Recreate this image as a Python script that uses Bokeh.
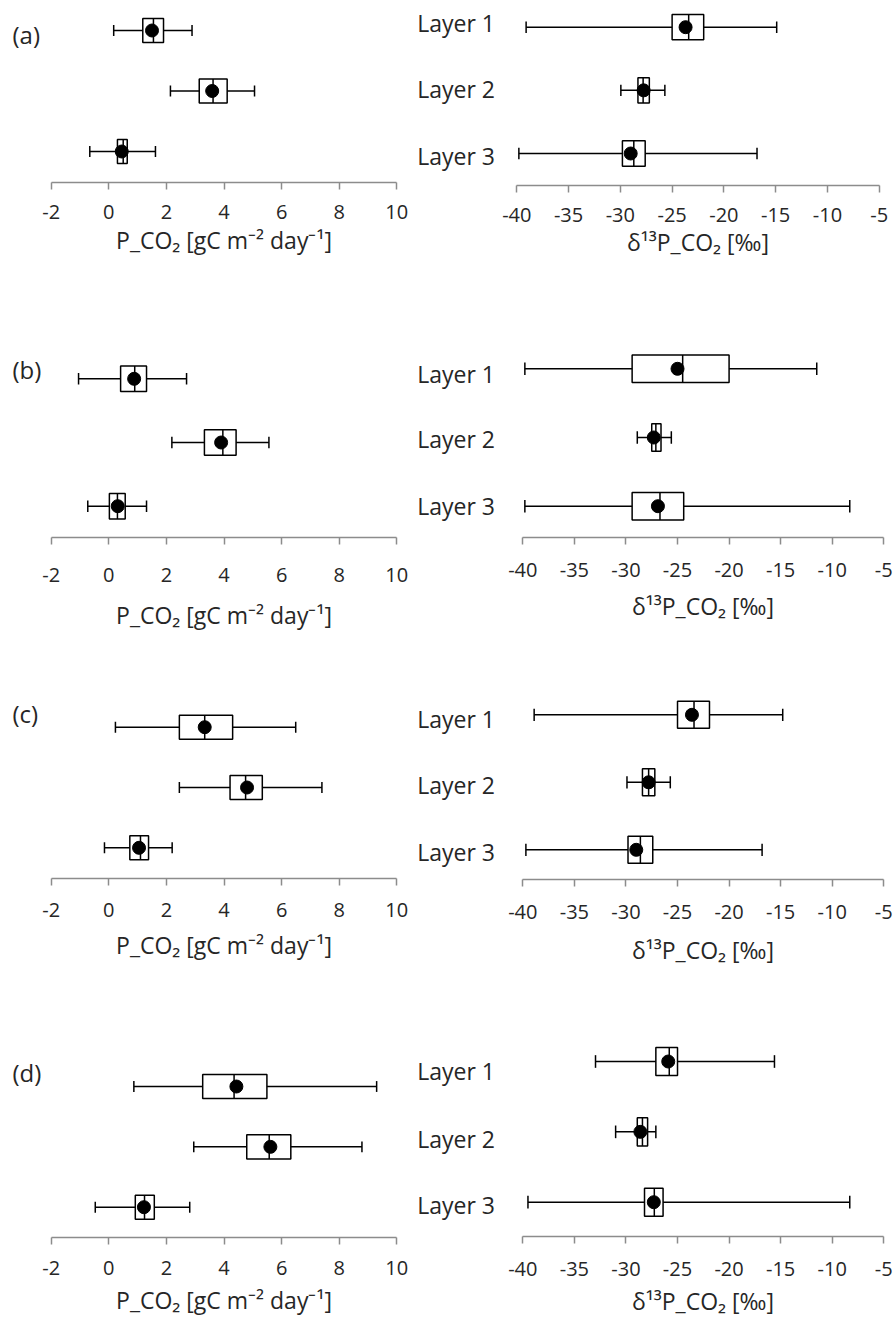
from bokeh.plotting import figure
from bokeh.models import LinearAxis, FixedTicker, Range1d, ColumnDataSource
from bokeh.layouts import column, row
from bokeh.embed import file_html
from bokeh.resources import INLINE
from bokeh.core.properties import value

# ---------------- data ----------------
panel_tags = ["(a)", "(b)", "(c)", "(d)"]
layers = ["Layer 1", "Layer 2", "Layer 3"]
layer_pos = [3, 2, 1]

# P_CO2 [gC m-2 day-1]  (per panel a-d, per layer 1-3)
pco2_lo   = [[0.17, 2.14, -0.66], [-1.05, 2.19, -0.73], [0.23, 2.45, -0.15], [0.87, 2.95, -0.47]]
pco2_q1   = [[1.18, 3.14, 0.30], [0.41, 3.32, 0.02], [2.45, 4.21, 0.73], [3.26, 4.79, 0.92]]
pco2_med  = [[1.55, 3.62, 0.50], [0.90, 3.96, 0.30], [3.33, 4.75, 1.10], [4.35, 5.57, 1.24]]
pco2_q3   = [[1.90, 4.11, 0.64], [1.31, 4.42, 0.57], [4.30, 5.33, 1.38], [5.49, 6.32, 1.58]]
pco2_hi   = [[2.89, 5.06, 1.62], [2.70, 5.56, 1.31], [6.49, 7.40, 2.20], [9.30, 8.79, 2.81]]
pco2_mean = [[1.50, 3.59, 0.45], [0.88, 3.90, 0.31], [3.33, 4.80, 1.05], [4.43, 5.61, 1.22]]

# d13P_CO2 [permil]
d13_lo   = [[-39.1, -29.95, -39.8], [-39.8, -28.9, -39.8], [-38.9, -29.9, -39.7], [-32.95, -31.0, -39.5]]
d13_q1   = [[-25.0, -28.3, -29.8], [-29.4, -27.5, -29.4], [-25.0, -28.4, -29.8], [-27.1, -28.9, -28.2]]
d13_med  = [[-23.4, -27.8, -28.7], [-24.5, -27.1, -26.7], [-23.4, -27.8, -28.6], [-25.8, -28.4, -27.25]]
d13_q3   = [[-21.95, -27.2, -27.6], [-20.0, -26.6, -24.4], [-21.9, -27.2, -27.4], [-25.0, -27.9, -26.4]]
d13_hi   = [[-14.9, -25.7, -16.8], [-11.5, -25.6, -8.3], [-14.8, -25.7, -16.8], [-15.6, -27.1, -8.3]]
d13_mean = [[-23.7, -27.75, -29.0], [-25.0, -27.3, -26.9], [-23.6, -27.8, -29.0], [-25.9, -28.6, -27.3]]

left_ticks = [-2, 0, 2, 4, 6, 8, 10]
right_ticks = [-40, -35, -30, -25, -20, -15, -10, -5]
left_title = "P_CO\u2082 [gC m\u207b\u00b2 day\u207b\u00b9]"
right_title = "\u03b4\u00b9\u00b3P_CO\u2082 [\u2030]"

# ---------------- layout (pixels) ----------------
FONT = "Open Sans"
TXT = "#262626"
AX = "#8c8c8c"
LW = 1.5
LEFT_W = 410
RIGHT_W = 485
rows_cfg = [
    dict(T=0, H=300,
         L=dict(A=181.5, P1=30.0, P3=151.0, lab=16, tit=1),
         R=dict(A=185.0, P1=26.7, P3=153.0, xa=516.3, xb=878.7, lab=15, tit=1),
         tag_y=33.5, lab_y=[22.3, 88.3, 155.0]),
    dict(T=300, H=350,
         L=dict(A=536.7, P1=378.3, P3=505.7, lab=24, tit=13),
         R=dict(A=537.3, P1=368.3, P3=505.7, xa=522.3, xb=883.3, lab=18, tit=10),
         tag_y=369.0, lab_y=[373.0, 438.3, 505.8]),
    dict(T=650, H=330,
         L=dict(A=878.3, P1=726.7, P3=847.3, lab=17, tit=9),
         R=dict(A=879.3, P1=714.3, P3=849.3, xa=522.3, xb=883.3, lab=18, tit=12),
         tag_y=713.0, lab_y=[718.0, 784.0, 851.3]),
    dict(T=980, H=339,
         L=dict(A=1236.7, P1=1086.0, P3=1206.7, lab=17, tit=5),
         R=dict(A=1236.0, P1=1061.0, P3=1201.7, xa=522.3, xb=883.3, lab=18, tit=6),
         tag_y=1072.0, lab_y=[1070.7, 1138.0, 1204.0]),
]
LEFT_XA, LEFT_XB = 50.7, 396.3


def make_fig(W, T, H, c, fig_x0, xa, xb, v0, v1, ticks, title, lo, q1, med, q3, hi, mean):
    s = (c["P3"] - c["P1"]) / 2.0

    def ypix(py):
        return 1 + (c["P3"] - py) / s

    k = (xb - xa) / (v1 - v0)
    x0 = v0 - (xa - fig_x0) / k
    x1 = v0 + (fig_x0 + W - xa) / k
    f = figure(width=W, height=H, x_range=Range1d(x0, x1), y_range=Range1d(ypix(T + H), ypix(T)),
               x_axis_type=None, y_axis_type=None, toolbar_location=None,
               output_backend="svg", min_border_left=0, min_border_right=0,
               min_border_top=0, min_border_bottom=0,
               outline_line_color=None, background_fill_color="white",
               border_fill_color="white")
    ax = LinearAxis(bounds=(v0, v1), ticker=FixedTicker(ticks=ticks, minor_ticks=[]),
                    axis_label=title, fixed_location=ypix(c["A"]),
                    major_label_overrides={t: str(t) for t in ticks})
    ax.axis_line_color = AX
    ax.axis_line_width = LW
    ax.major_tick_line_color = AX
    ax.major_tick_line_width = LW
    ax.major_tick_out = 7
    ax.major_tick_in = 0
    ax.minor_tick_line_color = None
    ax.major_label_text_font = FONT
    ax.major_label_text_font_size = "20px"
    ax.major_label_text_color = TXT
    ax.major_label_standoff = c["lab"]
    ax.axis_label_text_font = FONT
    ax.axis_label_text_font_size = "23px"
    ax.axis_label_text_font_style = "normal"
    ax.axis_label_text_color = TXT
    ax.axis_label_standoff = c["tit"]
    f.add_layout(ax, "below")

    src = ColumnDataSource(dict(y=layer_pos, lo=lo, q1=q1, med=med, q3=q3, hi=hi, mean=mean,
                                ylo=[v - 0.2 for v in layer_pos], yhi=[v + 0.2 for v in layer_pos],
                                clo=[v - 0.09 for v in layer_pos], chi=[v + 0.09 for v in layer_pos]))
    f.segment(x0="lo", y0="y", x1="hi", y1="y", source=src, line_color="black", line_width=LW)
    f.segment(x0="lo", y0="clo", x1="lo", y1="chi", source=src, line_color="black", line_width=LW)
    f.segment(x0="hi", y0="clo", x1="hi", y1="chi", source=src, line_color="black", line_width=LW)
    f.hbar(y="y", height=0.4, left="q1", right="q3", source=src, fill_color="white",
           line_color="black", line_width=LW)
    f.segment(x0="med", y0="ylo", x1="med", y1="yhi", source=src, line_color="black", line_width=LW)
    f.scatter(x="mean", y="y", source=src, size=13, color="black")
    return f, (lambda px: x0 + (px - fig_x0) / k), ypix


grid_rows = []
for i, rc in enumerate(rows_cfg):
    fl, fxl, fyl = make_fig(LEFT_W, rc["T"], rc["H"], rc["L"], 0, LEFT_XA, LEFT_XB,
                            left_ticks[0], left_ticks[-1], left_ticks, left_title,
                            pco2_lo[i], pco2_q1[i], pco2_med[i], pco2_q3[i], pco2_hi[i], pco2_mean[i])
    fl.text(x=[fxl(12)], y=[fyl(rc["tag_y"])], text=[panel_tags[i]], text_font=value(FONT),
            text_font_size="24px", text_baseline="middle", text_align="left", text_color=TXT)
    R = rc["R"]
    fr, fxr, fyr = make_fig(RIGHT_W, rc["T"], rc["H"], R, LEFT_W, R["xa"], R["xb"],
                            right_ticks[0], right_ticks[-1], right_ticks, right_title,
                            d13_lo[i], d13_q1[i], d13_med[i], d13_q3[i], d13_hi[i], d13_mean[i])
    fr.text(x=[fxr(416.7)] * 3, y=[fyr(v) for v in rc["lab_y"]], text=layers,
            text_font=value(FONT), text_font_size="23px", text_baseline="middle",
            text_align="left", text_color=TXT)
    grid_rows.append(row(fl, fr, spacing=0))

layout = column(*grid_rows, spacing=0)
open("out.html", "w").write(file_html(layout, INLINE))
